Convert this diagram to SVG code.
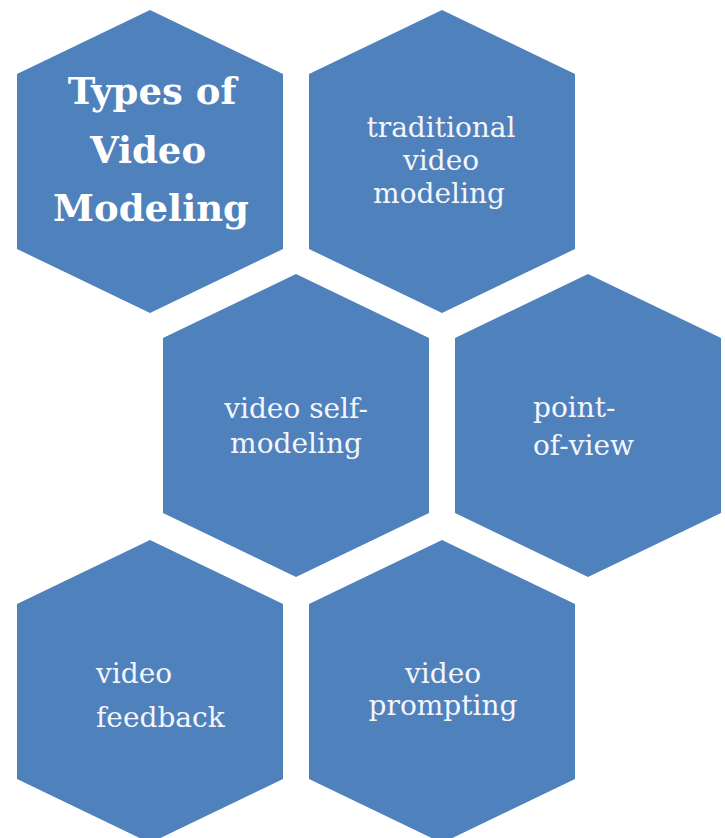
<svg xmlns="http://www.w3.org/2000/svg" width="725" height="838" viewBox="0 0 725 838">
<style>
.hex{fill:#4f81bd;}
.t{font-family:"DejaVu Serif","Liberation Serif",serif;font-size:28px;fill:#f4f6fa;}
.c{text-anchor:middle;}
.b{font-weight:bold;font-size:37px;fill:#ffffff;}
</style>
<rect width="725" height="838" fill="#ffffff"/>
<g id="connectors"/>
<g id="node-title">
<polygon class="hex" points="150,10 283,74 283,249 150,313 17,249 17,74"/>
<text class="t c b" x="152" y="104">Types of</text>
<text class="t c b" x="148" y="163">Video</text>
<text class="t c b" x="151" y="221">Modeling</text>
</g>
<g id="node-traditional">
<polygon class="hex" points="442,10 575,74 575,249 442,313 309,249 309,74"/>
<text class="t c" x="441" y="137">traditional</text>
<text class="t c" x="441" y="170">video</text>
<text class="t c" x="439" y="203">modeling</text>
</g>
<g id="node-self">
<polygon class="hex" points="296,274 429,338 429,513 296,577 163,513 163,338"/>
<text class="t c" x="296" y="418">video self-</text>
<text class="t c" x="296" y="453">modeling</text>
</g>
<g id="node-pov">
<polygon class="hex" points="588,274 721,338 721,513 588,577 455,513 455,338"/>
<text class="t" x="533" y="417">point-</text>
<text class="t" x="533" y="455">of-view</text>
</g>
<g id="node-feedback">
<polygon class="hex" points="150,540 283,604 283,779 150,843 17,779 17,604"/>
<text class="t" x="96" y="683">video</text>
<text class="t" x="96" y="727">feedback</text>
</g>
<g id="node-prompting">
<polygon class="hex" points="442,540 575,604 575,779 442,843 309,779 309,604"/>
<text class="t c" x="443" y="683">video</text>
<text class="t c" x="443" y="715">prompting</text>
</g>
</svg>
